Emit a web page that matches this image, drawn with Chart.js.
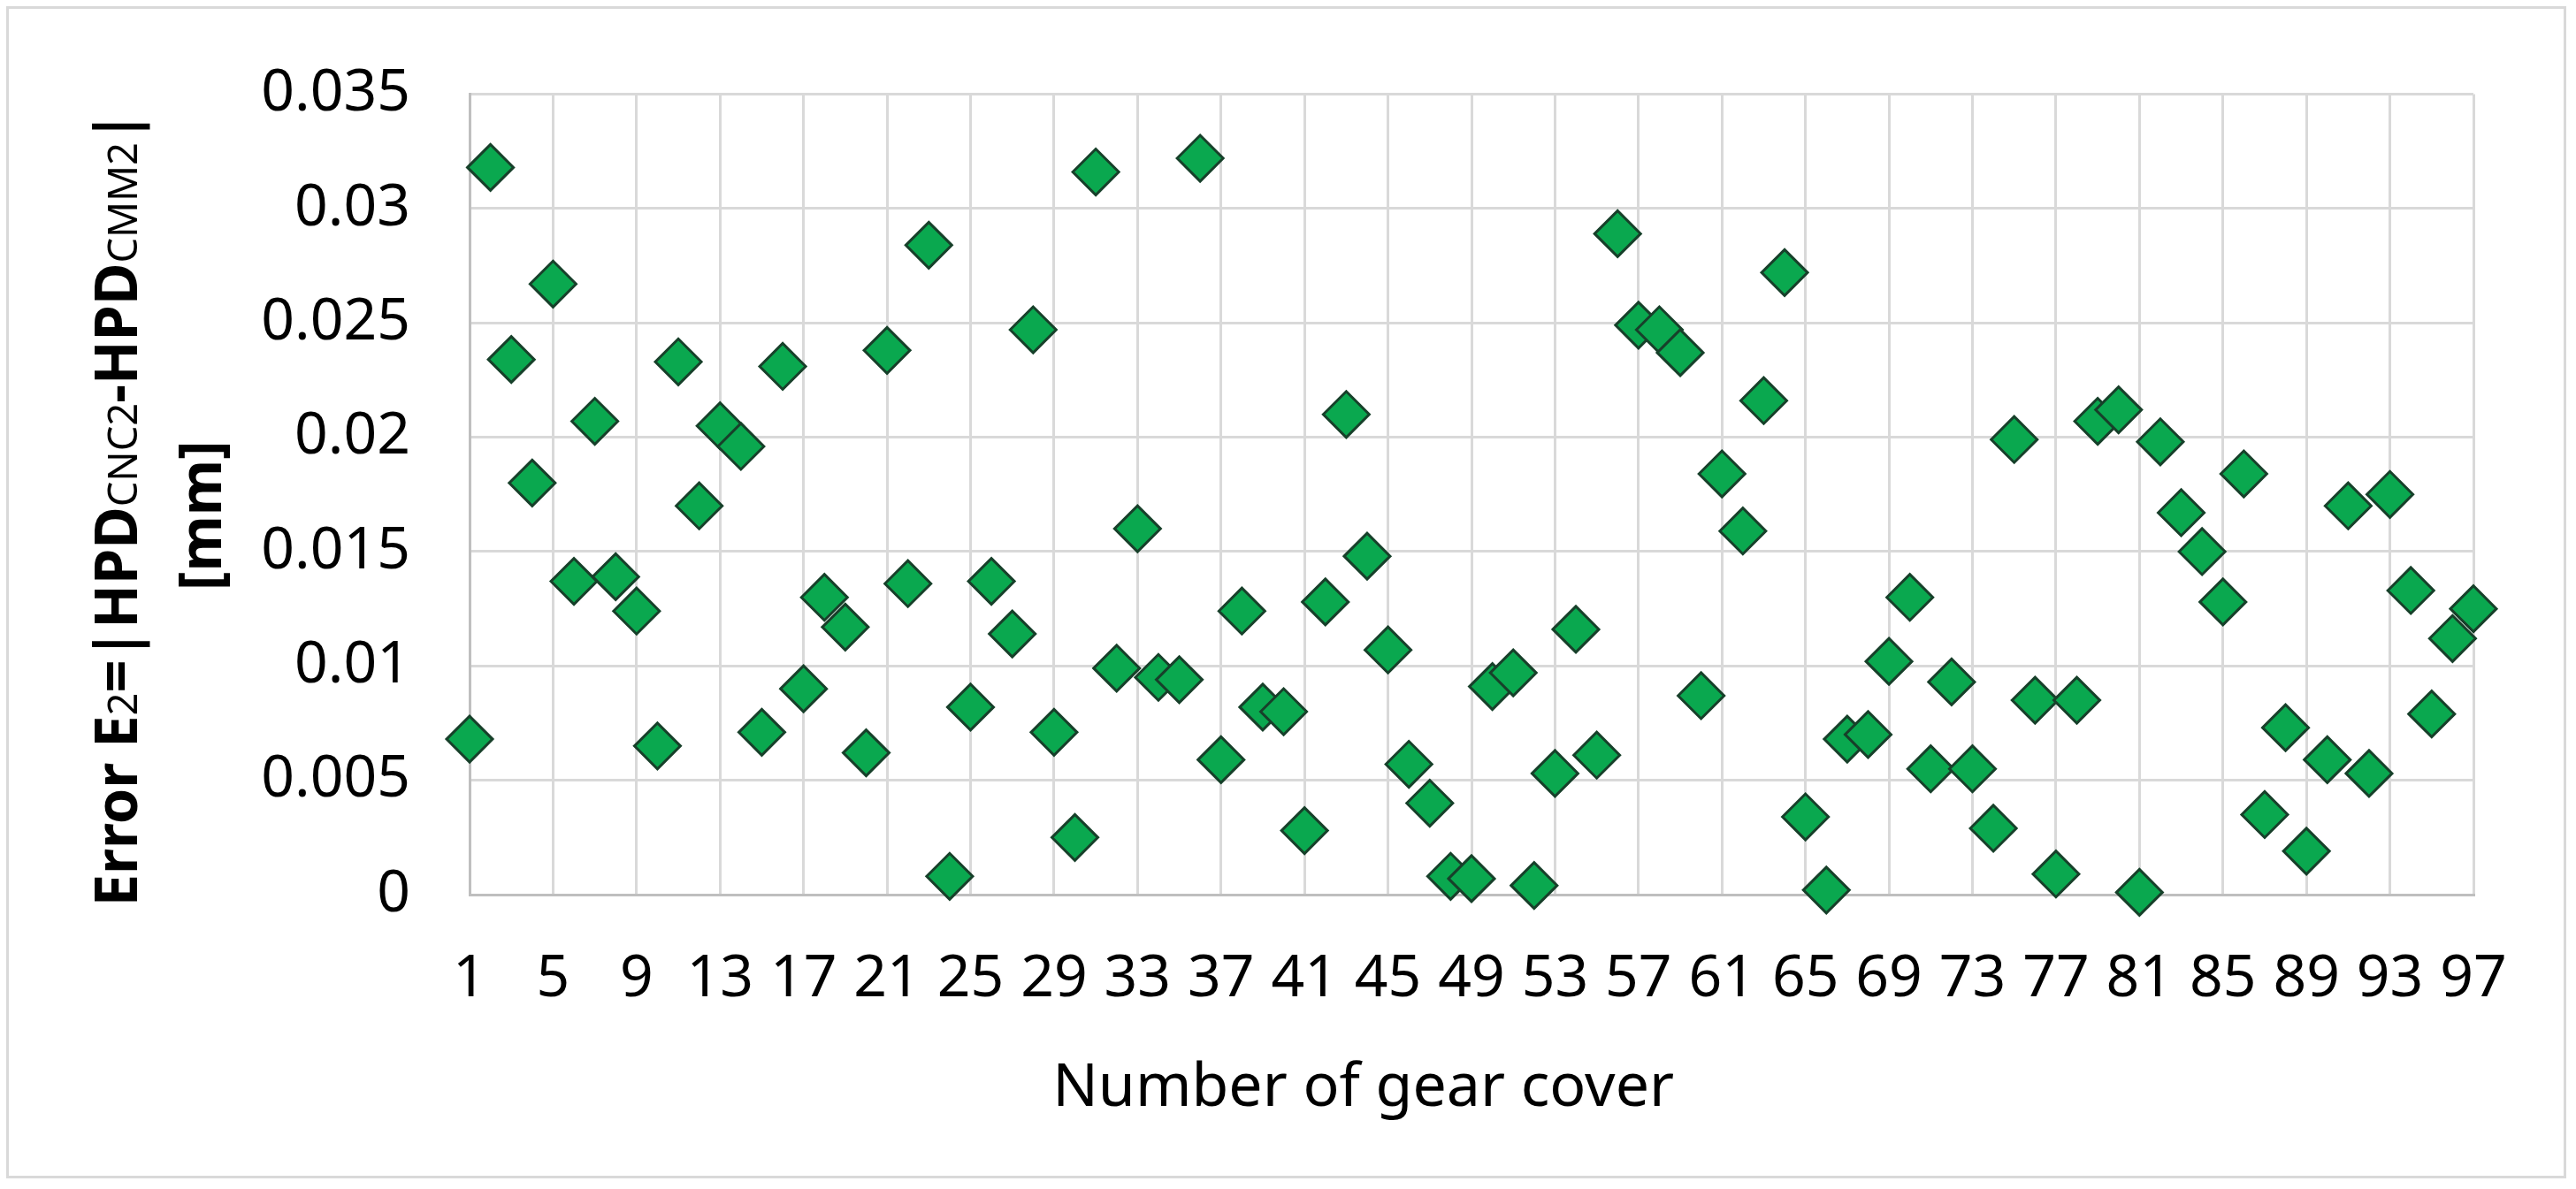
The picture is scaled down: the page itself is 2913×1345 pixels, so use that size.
<!DOCTYPE html>
<html>
<head>
<meta charset="utf-8">
<title>Error E2 per gear cover</title>
<script src="https://cdn.jsdelivr.net/npm/chart.js"></script>
<style>
  html, body { margin: 0; padding: 0; background: #fff; }
  canvas { display: block; }
</style>
</head>
<body>
<canvas id="chart" width="2913" height="1345"></canvas>
<script>
'use strict'

// gear cover numbers (categories)
var gearNo = [
  1, 2, 3, 4, 5, 6, 7, 8, 9, 10, 11, 12, 13, 14, 15, 16, 17, 18, 19, 20,
  21, 22, 23, 24, 25, 26, 27, 28, 29, 30, 31, 32, 33, 34, 35, 36, 37, 38, 39, 40,
  41, 42, 43, 44, 45, 46, 47, 48, 49, 50, 51, 52, 53, 54, 55, 56, 57, 58, 59, 60,
  61, 62, 63, 64, 65, 66, 67, 68, 69, 70, 71, 72, 73, 74, 75, 76, 77, 78, 79, 80,
  81, 82, 83, 84, 85, 86, 87, 88, 89, 90, 91, 92, 93, 94, 95, 96, 97
];

// E2 = |HPD_CNC2 - HPD_CMM2| in mm
var errorE2 = [
  0.0068, 0.0318, 0.0234, 0.0180, 0.0267, 0.0137, 0.0207, 0.0139, 0.0124, 0.0065,
  0.0233, 0.0170, 0.0205, 0.0196, 0.0071, 0.0231, 0.0090, 0.0130, 0.0117, 0.0062,
  0.0238, 0.0136, 0.0284, 0.0008, 0.0082, 0.0137, 0.0114, 0.0247, 0.0071, 0.0025,
  0.0316, 0.0099, 0.0160, 0.0095, 0.0094, 0.0322, 0.0059, 0.0124, 0.0082, 0.0080,
  0.0028, 0.0128, 0.0210, 0.0148, 0.0107, 0.0057, 0.0040, 0.0008, 0.0007, 0.0091,
  0.0097, 0.0004, 0.0053, 0.0116, 0.0061, 0.0289, 0.0249, 0.0247, 0.0237, 0.0087,
  0.0184, 0.0159, 0.0216, 0.0272, 0.0034, 0.0002, 0.0068, 0.0070, 0.0102, 0.0130,
  0.0055, 0.0093, 0.0055, 0.0029, 0.0199, 0.0085, 0.0009, 0.0085, 0.0207, 0.0212,
  0.0001, 0.0198, 0.0167, 0.0150, 0.0128, 0.0184, 0.0035, 0.0073, 0.0019, 0.0059,
  0.0170, 0.0053, 0.0175, 0.0133, 0.0079, 0.0112, 0.0125
];

// y axis ticks
var yMin = 0;
var yMax = 0.035;
var yStep = 0.005;

var xTitle = 'Number of gear cover';
// [text, subscript?]
var yTitleParts = [
  ['Error E', false], ['2', true], ['=|HPD', false], ['CNC2', true],
  ['-HPD', false], ['CMM2', true], ['|', false]
];
var yTitleUnit = '[mm]';

var FONT = '"Noto Sans", "Open Sans", sans-serif';

var frameAndTitles = {
  id: 'frameAndTitles',
  beforeDraw: function (chart) {
    var ctx = chart.ctx;
    ctx.save();
    ctx.fillStyle = '#fff';
    ctx.fillRect(0, 0, chart.width, chart.height);
    ctx.strokeStyle = '#d9d9d9';
    ctx.lineWidth = 3;
    ctx.strokeRect(8.5, 8.5, chart.width - 21, chart.height - 22);
    ctx.restore();
  },
  afterDraw: function (chart) {
    var ctx = chart.ctx;
    var area = chart.chartArea;
    ctx.save();
    ctx.fillStyle = '#000';

    // x axis title
    ctx.font = '68px ' + FONT;
    ctx.textAlign = 'center';
    ctx.textBaseline = 'middle';
    ctx.fillText(xTitle, area.left + area.width * 0.446, 1232);

    // y axis title, rotated, with subscripts (squeezed a little, the original font is narrow)
    ctx.textAlign = 'left';
    ctx.textBaseline = 'alphabetic';
    var total = 0;
    yTitleParts.forEach(function (p) {
      ctx.font = p[1] ? '46px ' + FONT : 'bold 66px ' + FONT;
      total += ctx.measureText(p[0]).width;
    });
    var squeeze = Math.min(1, 900 / total);
    var midY = (area.top + area.bottom) / 2;
    ctx.translate(155, midY + 16);
    ctx.rotate(-Math.PI / 2);
    ctx.scale(squeeze, 1);
    var x = -total / 2;
    yTitleParts.forEach(function (p) {
      ctx.font = p[1] ? '46px ' + FONT : 'bold 66px ' + FONT;
      ctx.fillText(p[0], x, 0);
      x += ctx.measureText(p[0]).width;
    });
    ctx.font = 'bold 66px ' + FONT;
    ctx.textAlign = 'center';
    ctx.fillText(yTitleUnit, -8, 95);
    ctx.restore();
  }
};

new Chart(document.getElementById('chart').getContext('2d'), {
  type: 'line',
  data: {
    labels: gearNo,
    datasets: [{
      data: errorE2,
      showLine: false,
      clip: false,
      pointStyle: 'rectRot',
      pointRadius: 26,
      pointHoverRadius: 26,
      pointBorderWidth: 3,
      pointBackgroundColor: '#0aa84f',
      pointBorderColor: '#17402a'
    }]
  },
  options: {
    responsive: false,
    animation: false,
    devicePixelRatio: 1,
    layout: { padding: { left: 0, right: 116, top: 81, bottom: 133 } },
    plugins: {
      legend: { display: false },
      tooltip: { enabled: false }
    },
    scales: {
      x: {
        type: 'category',
        offset: false,
        afterFit: function (scale) { scale.height = 200; },
        border: { color: '#bfbfbf', width: 3 },
        grid: {
          drawTicks: false,
          lineWidth: 3,
          color: function (c) { return c.index % 4 === 0 ? '#d9d9d9' : 'rgba(0,0,0,0)'; }
        },
        ticks: {
          autoSkip: false,
          maxRotation: 0,
          padding: 57,
          color: '#000',
          font: { family: FONT, size: 66 },
          callback: function (value, index) {
            return index % 4 === 0 ? String(gearNo[index]) : '';
          }
        }
      },
      y: {
        min: yMin,
        max: yMax,
        afterFit: function (scale) { scale.width = 531; },
        border: { color: '#bfbfbf', width: 3 },
        grid: { drawTicks: false, lineWidth: 3, color: '#d9d9d9' },
        ticks: {
          stepSize: yStep,
          padding: 67,
          color: '#000',
          font: { family: FONT, size: 66 },
          callback: function (v) { return String(+v.toFixed(4)); }
        }
      }
    }
  },
  plugins: [frameAndTitles]
});
</script>
</body>
</html>
